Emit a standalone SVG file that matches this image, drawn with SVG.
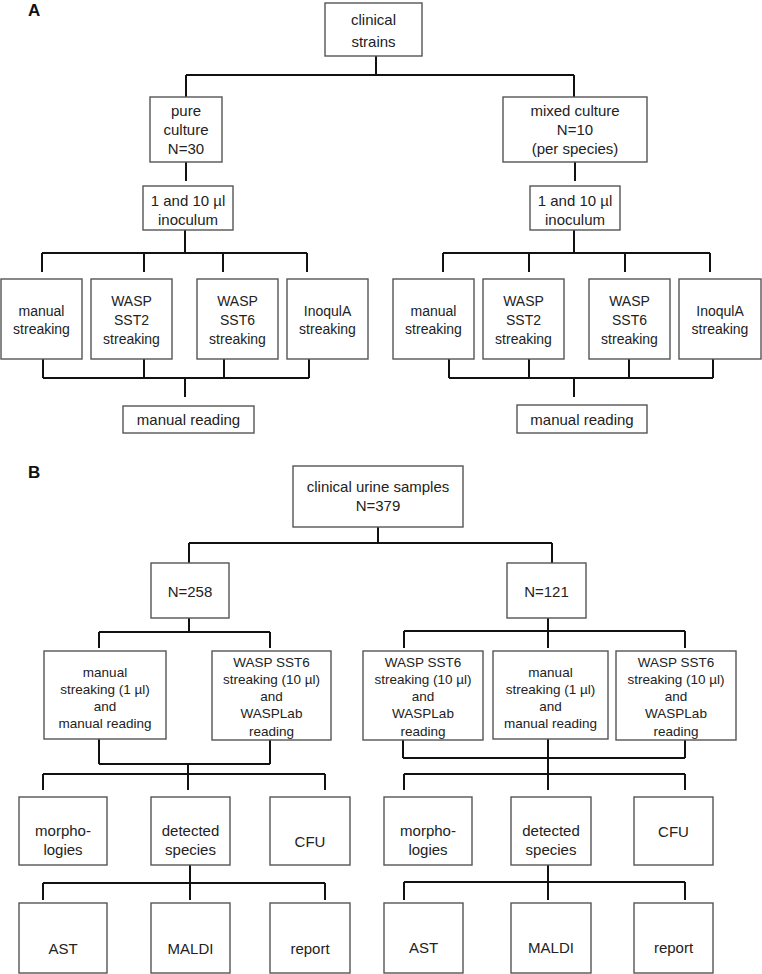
<svg xmlns="http://www.w3.org/2000/svg" width="762" height="974" viewBox="0 0 762 974">
<style>
.b{fill:#fff;stroke:#555;stroke-width:1.4}
.t{font-family:"Liberation Sans",Arial,sans-serif;font-size:15px;fill:#222;text-anchor:middle}
.s{font-size:14px}
.m{font-size:13.5px}
.lbl{font-family:"Liberation Sans",Arial,sans-serif;font-size:17px;font-weight:bold;fill:#111}
#connectors path{fill:none;stroke:#111;stroke-width:2}
</style>
<rect width="762" height="974" fill="#fff"/>
<text class="lbl" x="28" y="16">A</text>
<text class="lbl" x="28" y="478">B</text>
<g id="connectors">
<path d="M376 56V75M186 75H574M186 75V97M574 75V97"/>
<path d="M186 162V181M575 162V181"/>
<path d="M185 230V253M42 253H307M42 253V272M144 253V272M223 253V272M307 253V272"/>
<path d="M43 359V378M144 359V378M224 359V378M309 359V378M43 378H309M185 378V397"/>
<path d="M574 230V253M443 253H710M443 253V272M529 253V272M625 253V272M710 253V272"/>
<path d="M449 359V378M529 359V378M629 359V378M713 359V378M449 378H713M574 378V397"/>
<path d="M378 527V543M189 543H552M189 543V563M552 543V563"/>
<path d="M189 618V632M99 632H270M99 632V648M270 632V648"/>
<path d="M99 739V764M270 740V764M99 764H270M188 764V790M43 774H325M43 774V790M325 774V790"/>
<path d="M190 865V883M43 883H325M43 883V900M190 883V900M325 883V900"/>
<path d="M548 618V631M404 631H685M404 631V648M548 631V648M685 631V648"/>
<path d="M403 740V758M548 739V758M685 740V758M403 758H685M548 758V790M404 774H685M404 774V790M685 774V790"/>
<path d="M548 865V882M404 882H685M404 882V900M548 882V900M685 882V900"/>
</g>
<g id="clinical-strains"><rect class="b" x="325" y="3" width="97" height="53"/><text class="t" x="373.5" y="25">clinical</text><text class="t" x="373.5" y="47">strains</text></g>
<g id="pure-culture"><rect class="b" x="150" y="97" width="72" height="65"/><text class="t" x="186" y="116">pure</text><text class="t" x="186" y="135">culture</text><text class="t" x="186" y="154">N=30</text></g>
<g id="mixed-culture"><rect class="b" x="503" y="97" width="144" height="65"/><text class="t" x="575" y="116">mixed culture</text><text class="t" x="575" y="135">N=10</text><text class="t" x="575" y="154">(per species)</text></g>
<g id="inoc-left"><rect class="b" x="143" y="186" width="90" height="44"/><text class="t" x="188" y="206">1 and 10 µl</text><text class="t" x="188" y="225">inoculum</text></g>
<g id="inoc-right"><rect class="b" x="530" y="186" width="90" height="44"/><text class="t" x="575" y="206">1 and 10 µl</text><text class="t" x="575" y="225">inoculum</text></g>
<g id="a-manual-l"><rect class="b" x="1" y="279" width="81" height="80"/><text class="t s" x="41.5" y="316">manual</text><text class="t s" x="41.5" y="334">streaking</text></g>
<g id="a-sst2-l"><rect class="b" x="91" y="279" width="81" height="80"/><text class="t s" x="131.5" y="306">WASP</text><text class="t s" x="131.5" y="325">SST2</text><text class="t s" x="131.5" y="344">streaking</text></g>
<g id="a-sst6-l"><rect class="b" x="197" y="279" width="81" height="80"/><text class="t s" x="237.5" y="306">WASP</text><text class="t s" x="237.5" y="325">SST6</text><text class="t s" x="237.5" y="344">streaking</text></g>
<g id="a-inoqula-l"><rect class="b" x="287" y="279" width="81" height="80"/><text class="t s" x="327.5" y="316">InoqulA</text><text class="t s" x="327.5" y="334">streaking</text></g>
<g id="a-reading-l"><rect class="b" x="123" y="406" width="131" height="27"/><text class="t" x="188.5" y="425">manual reading</text></g>
<g id="a-manual-r"><rect class="b" x="393" y="279" width="81" height="80"/><text class="t s" x="433.5" y="316">manual</text><text class="t s" x="433.5" y="334">streaking</text></g>
<g id="a-sst2-r"><rect class="b" x="483" y="279" width="81" height="80"/><text class="t s" x="523.5" y="306">WASP</text><text class="t s" x="523.5" y="325">SST2</text><text class="t s" x="523.5" y="344">streaking</text></g>
<g id="a-sst6-r"><rect class="b" x="589" y="279" width="81" height="80"/><text class="t s" x="629.5" y="306">WASP</text><text class="t s" x="629.5" y="325">SST6</text><text class="t s" x="629.5" y="344">streaking</text></g>
<g id="a-inoqula-r"><rect class="b" x="679" y="279" width="82" height="80"/><text class="t s" x="720" y="316">InoqulA</text><text class="t s" x="720" y="334">streaking</text></g>
<g id="a-reading-r"><rect class="b" x="517" y="405" width="130" height="28"/><text class="t" x="582" y="425">manual reading</text></g>
<g id="urine"><rect class="b" x="293" y="466" width="170" height="61"/><text class="t" x="378" y="492">clinical urine samples</text><text class="t" x="378" y="511">N=379</text></g>
<g id="n258"><rect class="b" x="151" y="563" width="78" height="55"/><text class="t" x="190" y="597">N=258</text></g>
<g id="n121"><rect class="b" x="507" y="563" width="79" height="55"/><text class="t" x="546.5" y="597">N=121</text></g>
<g id="b-manual-l"><rect class="b" x="44" y="651" width="122" height="88"/><text class="t m" x="105" y="677">manual</text><text class="t m" x="105" y="694">streaking (1 µl)</text><text class="t m" x="105" y="711">and</text><text class="t m" x="105" y="728">manual reading</text></g>
<g id="b-wasp-l"><rect class="b" x="212" y="651" width="119" height="89"/><text class="t m" x="271.5" y="667">WASP SST6</text><text class="t m" x="271.5" y="684">streaking (10 µl)</text><text class="t m" x="271.5" y="701">and</text><text class="t m" x="271.5" y="718">WASPLab</text><text class="t m" x="271.5" y="736">reading</text></g>
<g id="b-wasp-r1"><rect class="b" x="363" y="651" width="120" height="89"/><text class="t m" x="423" y="667">WASP SST6</text><text class="t m" x="423" y="684">streaking (10 µl)</text><text class="t m" x="423" y="701">and</text><text class="t m" x="423" y="718">WASPLab</text><text class="t m" x="423" y="736">reading</text></g>
<g id="b-manual-r"><rect class="b" x="493" y="651" width="115" height="88"/><text class="t m" x="550.5" y="677">manual</text><text class="t m" x="550.5" y="694">streaking (1 µl)</text><text class="t m" x="550.5" y="711">and</text><text class="t m" x="550.5" y="728">manual reading</text></g>
<g id="b-wasp-r2"><rect class="b" x="616" y="651" width="120" height="89"/><text class="t m" x="676" y="667">WASP SST6</text><text class="t m" x="676" y="684">streaking (10 µl)</text><text class="t m" x="676" y="701">and</text><text class="t m" x="676" y="718">WASPLab</text><text class="t m" x="676" y="736">reading</text></g>
<g id="morph-l"><rect class="b" x="19" y="797" width="88" height="68"/><text class="t" x="63" y="836">morpho-</text><text class="t" x="63" y="855">logies</text></g>
<g id="species-l"><rect class="b" x="151" y="797" width="79" height="68"/><text class="t" x="190.5" y="836">detected</text><text class="t" x="190.5" y="855">species</text></g>
<g id="cfu-l"><rect class="b" x="270" y="797" width="80" height="68"/><text class="t" x="310" y="847">CFU</text></g>
<g id="ast-l"><rect class="b" x="19" y="903" width="88" height="70"/><text class="t" x="63" y="954">AST</text></g>
<g id="maldi-l"><rect class="b" x="151" y="903" width="79" height="70"/><text class="t" x="190.5" y="954">MALDI</text></g>
<g id="report-l"><rect class="b" x="270" y="903" width="80" height="70"/><text class="t" x="310" y="954">report</text></g>
<g id="morph-r"><rect class="b" x="384" y="797" width="88" height="68"/><text class="t" x="428" y="836">morpho-</text><text class="t" x="428" y="855">logies</text></g>
<g id="species-r"><rect class="b" x="511" y="797" width="80" height="68"/><text class="t" x="551" y="836">detected</text><text class="t" x="551" y="855">species</text></g>
<g id="cfu-r"><rect class="b" x="634" y="797" width="79" height="68"/><text class="t" x="673.5" y="837">CFU</text></g>
<g id="ast-r"><rect class="b" x="384" y="903" width="79" height="70"/><text class="t" x="423.5" y="953">AST</text></g>
<g id="maldi-r"><rect class="b" x="511" y="903" width="80" height="70"/><text class="t" x="551" y="953">MALDI</text></g>
<g id="report-r"><rect class="b" x="634" y="903" width="79" height="70"/><text class="t" x="673.5" y="953">report</text></g>
</svg>
